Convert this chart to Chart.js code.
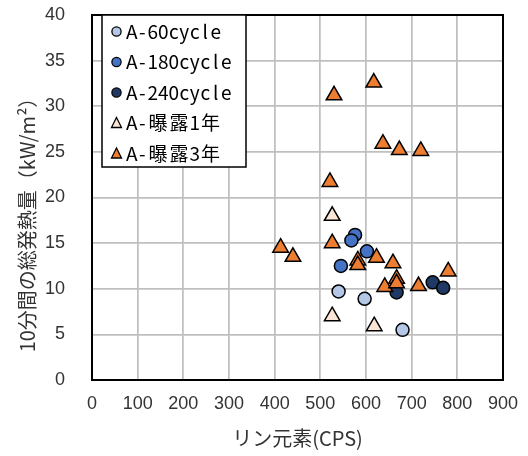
<!DOCTYPE html>
<html lang="ja">
<head>
    <meta charset="UTF-8">
    <title>リン元素と総発熱量</title>
    <script src="https://cdn.jsdelivr.net/npm/chart.js"></script>
    <style>
        body {
            margin: 0;
            padding: 0;
            background-color: #ffffff;
        }
        canvas {
            display: block;
        }
    </style>
</head>
<body>
    <canvas id="scatterChart" width="528" height="456"></canvas>

    <script>
        // Values
        const seriesLabels = ['A-60cycle', 'A-180cycle', 'A-240cycle', 'A-曝露1年', 'A-曝露3年'];

        const cycle60X = [540, 597, 680];
        const cycle60Y = [9.7, 8.9, 5.5];

        const cycle180X = [576, 568, 602, 545];
        const cycle180Y = [15.9, 15.3, 14.1, 12.5];

        const cycle240X = [667, 746, 769];
        const cycle240Y = [9.6, 10.7, 10.1];

        const exposed1X = [526, 526, 618];
        const exposed1Y = [18.0, 7.0, 5.9];

        const exposed3X = [530, 617, 637, 673, 720, 521, 413, 440, 526, 582, 582, 623, 659, 780, 641, 667, 667, 715];
        const exposed3Y = [31.2, 32.6, 25.9, 25.2, 25.1, 21.7, 14.5, 13.5, 15.0, 13.1, 12.6, 13.4, 12.8, 11.9, 10.2, 11.1, 10.6, 10.3];

        const xTicks = [0, 100, 200, 300, 400, 500, 600, 700, 800, 900];
        const yTicks = [0, 5, 10, 15, 20, 25, 30, 35, 40];

        const xTitle = 'リン元素(CPS)';
        const yTitle = '10分間の総発熱量（kW/m²）';

        const toPoints = (xs, ys) => xs.map((x, i) => ({ x: x, y: ys[i] }));

        const seriesStyle = [
            { color: '#b4c7e7', shape: 'circle' },
            { color: '#4472c4', shape: 'circle' },
            { color: '#203864', shape: 'circle' },
            { color: '#fbe5d6', shape: 'triangle' },
            { color: '#ed7d31', shape: 'triangle' }
        ];
        const seriesData = [
            toPoints(cycle60X, cycle60Y),
            toPoints(cycle180X, cycle180Y),
            toPoints(cycle240X, cycle240Y),
            toPoints(exposed1X, exposed1Y),
            toPoints(exposed3X, exposed3Y)
        ];

        const tickColor = '#333333';
        const tickFont = { family: '"Liberation Sans", Arial', size: 18 };

        // frame, rotated y title and boxed legend like the Excel original
        const excelLook = {
            id: 'excelLook',
            beforeDatasetsDraw(chart) {
                const { ctx, chartArea: a } = chart;
                ctx.save();
                ctx.strokeStyle = '#000';
                ctx.lineWidth = 2;
                ctx.strokeRect(a.left, a.top, a.right - a.left, a.bottom - a.top);
                ctx.restore();
            },
            afterDatasetsDraw(chart) {
                const { ctx } = chart;

                // y axis title
                ctx.save();
                ctx.translate(27, 220);
                ctx.rotate(-Math.PI / 2);
                ctx.font = '20px "Noto Sans CJK JP"';
                ctx.fillStyle = tickColor;
                ctx.textAlign = 'center';
                ctx.textBaseline = 'middle';
                ctx.fillText(yTitle, 0, 0);
                ctx.restore();

                // legend box
                const bx = 102, by = 15, bw = 144, bh = 152;
                ctx.save();
                ctx.fillStyle = '#fff';
                ctx.fillRect(bx, by, bw, bh);
                ctx.strokeStyle = '#000';
                ctx.lineWidth = 1.5;
                ctx.strokeRect(bx, by, bw, bh);

                chart.data.datasets.forEach((ds, i) => {
                    const cy = 31.5 + i * 30.5;
                    const mx = 116.5;
                    ctx.fillStyle = ds.backgroundColor;
                    ctx.strokeStyle = '#000';
                    ctx.lineWidth = 1.3;
                    ctx.beginPath();
                    if (ds.pointStyle === 'circle') {
                        ctx.arc(mx, cy, 4.6, 0, Math.PI * 2);
                    } else {
                        ctx.moveTo(mx, cy - 5.5);
                        ctx.lineTo(mx + 5, cy + 4.5);
                        ctx.lineTo(mx - 5, cy + 4.5);
                        ctx.closePath();
                    }
                    ctx.fill();
                    ctx.stroke();

                    // fixed-pitch text, half width / full width cells
                    ctx.fillStyle = '#000';
                    ctx.font = '19px "Noto Sans CJK JP"';
                    ctx.textAlign = 'center';
                    ctx.textBaseline = 'middle';
                    let tx = 126.5;
                    for (const ch of ds.label) {
                        const w = ch.charCodeAt(0) > 255 ? 21 : 10.5;
                        ctx.fillText(ch, tx + w / 2, cy);
                        tx += w;
                    }
                });
                ctx.restore();
            }
        };

        new Chart(document.getElementById('scatterChart'), {
            type: 'scatter',
            data: {
                datasets: seriesLabels.map((label, i) => ({
                    label: label,
                    data: seriesData[i],
                    pointStyle: seriesStyle[i].shape,
                    pointRadius: seriesStyle[i].shape === 'circle' ? 6.5 : 9,
                    pointHoverRadius: seriesStyle[i].shape === 'circle' ? 6.5 : 9,
                    backgroundColor: seriesStyle[i].color,
                    borderColor: '#000',
                    borderWidth: 1.5,
                    order: seriesLabels.length - i
                }))
            },
            options: {
                responsive: false,
                animation: false,
                layout: {
                    padding: { left: 0, top: 15, right: 25, bottom: 0 }
                },
                scales: {
                    x: {
                        type: 'linear',
                        min: 0,
                        max: 900,
                        afterFit: (scale) => {
                            scale.height = 76;
                            scale.paddingLeft = 0;
                            scale.paddingRight = 0;
                        },
                        afterBuildTicks: (scale) => { scale.ticks = xTicks.map(v => ({ value: v })); },
                        ticks: {
                            color: tickColor,
                            padding: 13,
                            font: tickFont
                        },
                        grid: {
                            color: '#bfbfbf',
                            lineWidth: 1.75,
                            drawTicks: false
                        },
                        border: { display: false },
                        title: {
                            display: true,
                            text: xTitle,
                            color: tickColor,
                            font: { family: '"Noto Sans CJK JP"', size: 20 },
                            padding: { top: 0, bottom: 6 }
                        }
                    },
                    y: {
                        type: 'linear',
                        min: 0,
                        max: 40,
                        afterFit: (scale) => {
                            scale.width = 92;
                            scale.paddingTop = 0;
                            scale.paddingBottom = 0;
                        },
                        afterBuildTicks: (scale) => { scale.ticks = yTicks.map(v => ({ value: v })); },
                        ticks: {
                            color: tickColor,
                            padding: 27,
                            font: tickFont
                        },
                        grid: {
                            color: '#bfbfbf',
                            lineWidth: 1.75,
                            drawTicks: false
                        },
                        border: { display: false }
                    }
                },
                plugins: {
                    legend: { display: false },
                    tooltip: { enabled: false }
                }
            },
            plugins: [excelLook]
        });
    </script>
</body>
</html>
